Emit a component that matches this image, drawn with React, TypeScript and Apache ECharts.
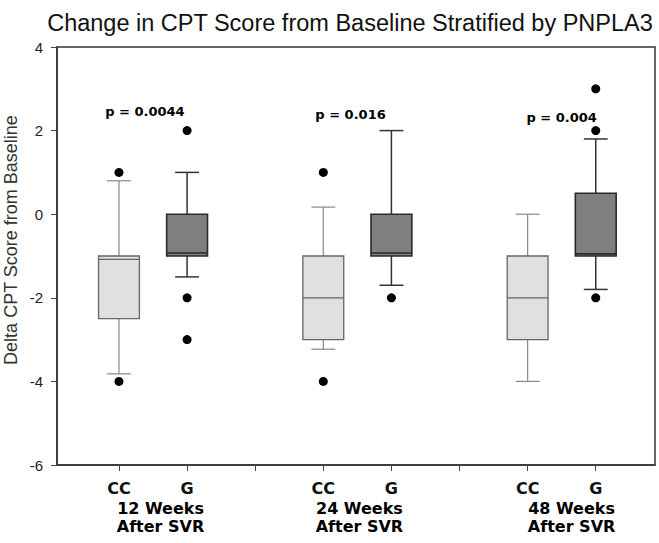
import React, { useEffect, useRef } from "react";
import * as echarts from "echarts";

// ---- data ----
const titleText = "Change in CPT Score from Baseline Stratified by PNPLA3";
const yAxisTitle = "Delta CPT Score from Baseline";

const boxPositions = [1, 2, 4, 5, 7, 8];
const genotypes = ["CC", "G", "CC", "G", "CC", "G"];
const whiskerLow = [-3.82, -1.5, -3.23, -1.7, -4.0, -1.8];
const q1Values = [-2.5, -1.0, -3.0, -1.0, -3.0, -1.0];
const medianValues = [-1.08, -0.93, -2.0, -0.93, -2.0, -0.95];
const q3Values = [-1.0, 0.0, -1.0, 0.0, -1.0, 0.5];
const whiskerHigh = [0.8, 1.0, 0.17, 2.0, 0.0, 1.8];

const outlierX = [1, 1, 2, 2, 2, 4, 4, 5, 8, 8, 8];
const outlierY = [1, -4, 2, -2, -3, 1, -4, -2, 3, 2, -2];

const pValueTexts = ["p = 0.0044", "p = 0.016", "p = 0.004"];
const pValueX = [1.38, 4.4, 7.5];
const pValueY = [2.45, 2.39, 2.31];

const timepointLabels = ["12 Weeks\nAfter SVR", "24 Weeks\nAfter SVR", "48 Weeks\nAfter SVR"];
const timepointX = [1.61, 4.53, 7.645];
const timepointY = -7.256;

const xTickValues = [1, 2, 3, 4, 5, 6, 7, 8];
const xMin = 0.09;
const xMax = 8.87;
const yMin = -6;
const yMax = 4;
const yStep = 2;

export default function App() {
  const ref = useRef<HTMLDivElement>(null);

  useEffect(() => {
    document.body.style.margin = "0";
    const chart = echarts.init(ref.current!, null, { renderer: "svg" });

    const boxData = boxPositions.map((p, i) => [
      p,
      whiskerLow[i],
      q1Values[i],
      medianValues[i],
      q3Values[i],
      whiskerHigh[i],
    ]);

    const option: any = {
      animation: false,
      backgroundColor: "#ffffff",
      grid: {
        left: 57,
        right: 4,
        top: 47,
        bottom: 78,
        show: true,
        borderColor: "#333333",
        borderWidth: 1.5,
        backgroundColor: "transparent",
      },
      xAxis: {
        type: "value",
        min: xMin,
        max: xMax,
        splitLine: { show: false },
        axisLine: { show: true, onZero: false, lineStyle: { color: "#333333", width: 1.5 } },
        axisTick: {
          show: true,
          customValues: xTickValues,
          length: 6,
          lineStyle: { color: "#444444", width: 1 },
        },
        axisLabel: {
          customValues: boxPositions,
          formatter: (v: number) => {
            const i = boxPositions.indexOf(Math.round(v));
            return i >= 0 ? genotypes[i] : "";
          },
          margin: 15,
          fontFamily: "DejaVu Sans",
          fontWeight: "bold",
          fontSize: 16,
          color: "#111111",
        },
      },
      yAxis: {
        type: "value",
        min: yMin,
        max: yMax,
        interval: yStep,
        splitLine: { show: false },
        axisLine: { show: true, onZero: false, lineStyle: { color: "#333333", width: 1.5 } },
        axisTick: { show: true, length: 6, lineStyle: { color: "#444444", width: 1 } },
        axisLabel: {
          margin: 14,
          fontFamily: "Liberation Sans",
          fontSize: 15,
          color: "#222222",
        },
      },
      graphic: [
        {
          type: "text",
          x: 350,
          y: 23,
          style: {
            text: titleText,
            font: "23.5px 'Liberation Sans'",
            fill: "#111111",
            textAlign: "center",
            textVerticalAlign: "middle",
          },
        },
        {
          type: "text",
          x: 10.5,
          y: 240,
          rotation: Math.PI / 2,
          style: {
            text: yAxisTitle,
            font: "18px 'Liberation Sans'",
            fill: "#333333",
            textAlign: "center",
            textVerticalAlign: "middle",
          },
        },
      ],
      series: [
        {
          type: "custom",
          name: "boxes",
          clip: false,
          encode: { x: 0, y: [1, 2, 3, 4, 5] },
          data: boxData,
          renderItem: (params: any, api: any) => {
            const x = api.value(0);
            const lo = api.coord([x, api.value(1)]);
            const q1 = api.coord([x, api.value(2)]);
            const md = api.coord([x, api.value(3)]);
            const q3 = api.coord([x, api.value(4)]);
            const hi = api.coord([x, api.value(5)]);
            const boxW = api.size([0.6, 0])[0];
            const capW = api.size([0.35, 0])[0];
            const isG = genotypes[params.dataIndex] === "G";
            const fill = isG ? "#7f7f7f" : "#e0e0e0";
            const edge = isG ? "#2a2a2a" : "#666666";
            const whisk = isG ? "#333333" : "#888888";
            const bw = isG ? 1.6 : 1.3;
            const ww = isG ? 1.5 : 1.2;
            const cx = lo[0];
            return {
              type: "group",
              children: [
                { type: "line", shape: { x1: cx, y1: q3[1], x2: cx, y2: hi[1] }, style: { stroke: whisk, lineWidth: ww } },
                { type: "line", shape: { x1: cx - capW / 2, y1: hi[1], x2: cx + capW / 2, y2: hi[1] }, style: { stroke: whisk, lineWidth: ww } },
                { type: "line", shape: { x1: cx, y1: q1[1], x2: cx, y2: lo[1] }, style: { stroke: whisk, lineWidth: ww } },
                { type: "line", shape: { x1: cx - capW / 2, y1: lo[1], x2: cx + capW / 2, y2: lo[1] }, style: { stroke: whisk, lineWidth: ww } },
                {
                  type: "rect",
                  shape: { x: cx - boxW / 2, y: q3[1], width: boxW, height: q1[1] - q3[1] },
                  style: { fill, stroke: edge, lineWidth: bw },
                },
                {
                  type: "line",
                  shape: { x1: cx - boxW / 2, y1: md[1], x2: cx + boxW / 2, y2: md[1] },
                  style: { stroke: edge, lineWidth: bw },
                },
              ],
            };
          },
        },
        {
          type: "scatter",
          name: "outliers",
          symbol: "circle",
          symbolSize: 9,
          itemStyle: { color: "#000000", opacity: 1 },
          data: outlierX.map((x, i) => [x, outlierY[i]]),
        },
        {
          type: "scatter",
          name: "pvalues",
          silent: true,
          clip: false,
          symbolSize: 0,
          itemStyle: { opacity: 1 },
          data: pValueX.map((x, i) => ({ value: [x, pValueY[i]], name: pValueTexts[i] })),
          label: {
            show: true,
            position: "inside",
            formatter: (p: any) => p.name,
            fontFamily: "DejaVu Sans",
            fontWeight: "bold",
            fontSize: 13,
            color: "#000000",
            opacity: 1,
          },
        },
        {
          type: "scatter",
          name: "timepoints",
          silent: true,
          clip: false,
          symbolSize: 0,
          itemStyle: { opacity: 1 },
          data: timepointX.map((x, i) => ({ value: [x, timepointY], name: timepointLabels[i] })),
          label: {
            show: true,
            position: "inside",
            formatter: (p: any) => p.name,
            fontFamily: "DejaVu Sans",
            fontWeight: "bold",
            fontSize: 16,
            lineHeight: 17.3,
            align: "center",
            color: "#000000",
            opacity: 1,
          },
        },
      ],
    };

    chart.setOption(option);
    return () => chart.dispose();
  }, []);

  return <div ref={ref} style={{ width: 659, height: 543 }} />;
}
